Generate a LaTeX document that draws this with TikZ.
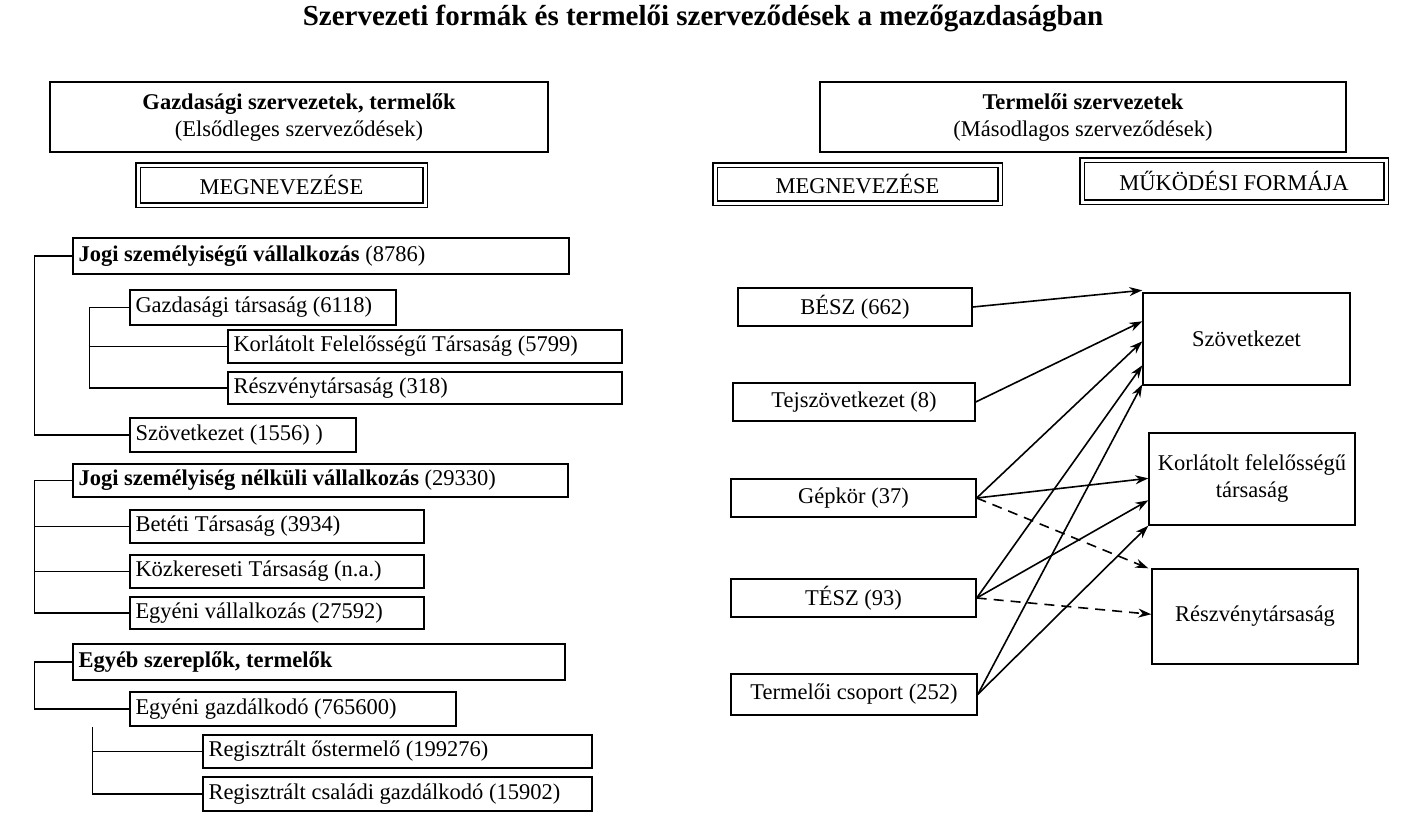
\documentclass[tikz,border=0pt]{standalone}
\usepackage{fontspec}
\setmainfont{Liberation Serif}
\usetikzlibrary{arrows.meta}
\newcommand\bx[6]{\node[draw,line width=1.4pt,minimum width={(#4-#2)*1pt},minimum height={(#5-#3)*1pt},inner sep=0pt] (#1) at ({(#2+#4)/2},{(#3+#5)/2}) {};}
\newcommand\lt[2]{\node[anchor=west,inner sep=0pt] at ([xshift=6pt]#1.west) {#2};}
\newcommand\ct[2]{\node[align=center,inner sep=0pt] at (#1.center) {#2};}
\newcommand\dbx[6]{\node[draw,double,double distance=3pt,line width=1.2pt,minimum width={(#4-#2)*1pt},minimum height={(#5-#3)*1pt},inner sep=0pt] (#1) at ({(#2+#4)/2},{(#3+#5)/2}) {#6};}
\begin{document}
\begin{tikzpicture}[x=1pt,y=-1pt,font=\fontsize{22.5}{27}\selectfont,
  ar/.style={line width=1.6pt,-{Stealth[length=13pt,width=9pt]}},
  dar/.style={ar,dash pattern=on 10pt off 7pt},
  tl/.style={line width=1.2pt}]
\useasboundingbox (0,0) rectangle (1417,830);
\node[font=\fontsize{29}{34}\selectfont\bfseries] (title) at (703,18) {Szervezeti formák és termelői szerveződések a mezőgazdaságban};
% headers
\bx{hl}{50}{82}{548}{152}{}
\ct{hl}{\textbf{Gazdasági szervezetek, termelők}\\(Elsődleges szerveződések)}
\bx{hr}{820}{82}{1346}{152}{}
\ct{hr}{\textbf{Termelői szervezetek}\\(Másodlagos szerveződések)}
\dbx{m1}{138}{165}{425}{205}{MEGNEVEZÉSE}
\dbx{m2}{715}{165}{1000}{203}{MEGNEVEZÉSE}
\dbx{m3}{1082}{160}{1386}{202}{MŰKÖDÉSI FORMÁJA}
% left tree
\bx{a}{73}{238}{569}{274}{}\lt{a}{\textbf{Jogi személyiségű vállalkozás} (8786)}
\bx{a1}{130}{290}{396}{325}{}\lt{a1}{Gazdasági társaság (6118)}
\bx{a2}{228}{330}{622}{363}{}\lt{a2}{Korlátolt Felelősségű Társaság (5799)}
\bx{a3}{228}{372}{622}{404}{}\lt{a3}{Részvénytársaság (318)}
\bx{a4}{130}{418}{356}{452}{}\lt{a4}{Szövetkezet (1556) )}
\draw[tl] (a.west) -- ++(-38,0) |- (a4.west);
\draw[tl] ([xshift=-40pt]a1.west) -- (a1.west);
\draw[tl] ([xshift=-40pt]a1.west) |- (a3.west);
\draw[tl] ([xshift=-138pt]a2.west) -- (a2.west);
\bx{b}{73}{464}{568}{497}{}\lt{b}{\textbf{Jogi személyiség nélküli vállalkozás} (29330)}
\bx{b1}{130}{510}{424}{543}{}\lt{b1}{Betéti Társaság (3934)}
\bx{b2}{130}{555}{424}{588}{}\lt{b2}{Közkereseti Társaság (n.a.)}
\bx{b3}{130}{597}{424}{629}{}\lt{b3}{Egyéni vállalkozás (27592)}
\draw[tl] (b.west) -- ++(-38,0) |- (b3.west);
\draw[tl] ([xshift=-95pt]b1.west) -- (b1.west);
\draw[tl] ([xshift=-95pt]b2.west) -- (b2.west);
\bx{c}{73}{644}{565}{680}{}\lt{c}{\textbf{Egyéb szereplők, termelők}}
\bx{c1}{130}{692}{456}{726}{}\lt{c1}{Egyéni gazdálkodó (765600)}
\bx{c2}{203}{735}{592}{768}{}\lt{c2}{Regisztrált őstermelő (199276)}
\bx{c3}{203}{777}{592}{811}{}\lt{c3}{Regisztrált családi gazdálkodó (15902)}
\draw[tl] (c.west) -- ++(-38,0) |- (c1.west);
\draw[tl] ([xshift=-37pt]c1.south west) |- (c3.west);
\draw[tl] ([xshift=-110pt]c2.west) -- (c2.west);
% right
\bx{s1}{738}{288}{972}{326}{}\ct{s1}{BÉSZ (662)}
\bx{s2}{733}{383}{975}{421}{}\ct{s2}{Tejszövetkezet (8)}
\bx{s3}{731}{479}{976}{517}{}\ct{s3}{Gépkör (37)}
\bx{s4}{731}{579}{976}{617}{}\ct{s4}{TÉSZ (93)}
\bx{s5}{731}{674}{977}{715}{}\ct{s5}{Termelői csoport (252)}
\bx{t1}{1143}{293}{1350}{385}{}\ct{t1}{Szövetkezet}
\bx{t2}{1149}{433}{1355}{525}{}\ct{t2}{Korlátolt felelősségű\\társaság}
\bx{t3}{1152}{569}{1358}{664}{}\ct{t3}{Részvénytársaság}
\draw[ar] (s1.east) -- ([yshift=2pt]t1.north west);
\draw[ar] (s2.east) -- ([yshift=-29pt]t1.north west);
\draw[ar] (s3.east) -- ([yshift=-49pt]t1.north west);
\draw[ar] (s4.east) -- ([yshift=-73pt]t1.north west);
\draw[ar] (s5.east) -- ([yshift=-92pt]t1.north west);
\draw[ar] (s3.east) -- ([yshift=-46pt]t2.north west);
\draw[ar] (s4.east) -- ([yshift=-68pt]t2.north west);
\draw[ar] (s5.east) -- (t2.south west);
\draw[dar] (s3.east) -- ([xshift=-3pt]t3.north west);
\draw[dar] (s4.east) -- ([yshift=-46pt]t3.north west);
\end{tikzpicture}
\end{document}
